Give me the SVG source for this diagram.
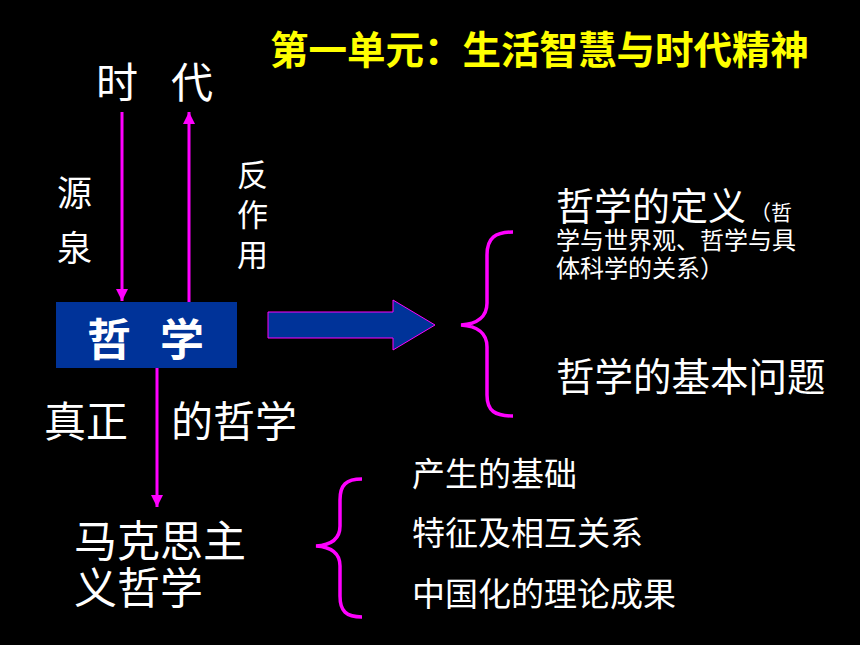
<svg xmlns="http://www.w3.org/2000/svg" width="860" height="645" viewBox="0 0 860 645">
<style>
text{font-family:"Noto Sans CJK SC","Noto Sans CJK JP",sans-serif;fill:#ffffff}
.title{fill:#ffff00;font-weight:bold;font-size:38.5px}
.conn{stroke:#ff00ff;stroke-width:3;fill:none}
.brace{stroke:#ff00ff;stroke-width:3.5;fill:none}
</style>
<defs>
<marker id="ah" viewBox="0 0 10 10" refX="10" refY="5" markerWidth="4" markerHeight="4" orient="auto" markerUnits="strokeWidth">
<path d="M0,0 L10,5 L0,10 z" fill="#ff00ff"/>
</marker>
</defs>
<rect width="860" height="645" fill="#000000"/>
<text class="title" x="270" y="64">第一单元：生活智慧与时代精神</text>
<g id="shidai">
<text x="96" y="98" font-size="42">时</text>
<text x="171" y="98" font-size="42">代</text>
</g>
<g id="yuanquan">
<text font-size="35"><tspan x="57" y="206">源</tspan><tspan x="57" y="261">泉</tspan></text>
</g>
<g id="fanzuoyong">
<text font-size="31"><tspan x="237" y="186">反</tspan><tspan x="237" y="226">作</tspan><tspan x="237" y="266">用</tspan></text>
</g>
<g id="zhexue">
<rect x="56" y="302" width="181" height="66" fill="#003399"/>
<text x="87" y="356" font-size="44" font-weight="bold">哲</text>
<text x="160" y="356" font-size="44" font-weight="bold">学</text>
</g>
<g id="zhenzheng">
<text x="44" y="437" font-size="42">真正</text>
<text x="171" y="437" font-size="42">的哲学</text>
</g>
<g id="makesi">
<text font-size="43"><tspan x="74" y="557">马克思主</tspan><tspan x="74" y="604">义哲学</tspan></text>
</g>
<g id="definition">
<text font-size="38"><tspan x="556" y="220">哲学的定义</tspan><tspan font-size="21" dx="4">（哲</tspan><tspan x="556" y="249" font-size="24">学与世界观、哲学与具</tspan><tspan x="556" y="277" font-size="24">体科学的关系）</tspan></text>
</g>
<g id="basic">
<text x="556" y="391" font-size="38.5">哲学的基本问题</text>
</g>
<g id="items">
<text x="412" y="486" font-size="33">产生的基础</text>
<text x="412" y="545" font-size="33">特征及相互关系</text>
<text x="412" y="606" font-size="33">中国化的理论成果</text>
</g>
<g id="connectors">
<line class="conn" x1="122" y1="112" x2="122" y2="301" marker-end="url(#ah)"/>
<line class="conn" x1="189" y1="302" x2="189" y2="112" marker-end="url(#ah)"/>
<line class="conn" x1="157" y1="368" x2="157" y2="507" marker-end="url(#ah)"/>
<path d="M268,312 H393 V300 L435,325 L393,350 V338 H268 Z" fill="#003399" stroke="#ff00ff" stroke-width="1"/>
<path class="brace" d="M513,232 C495,232 487,238 487,255 V303 C487,317 477,324 461,325 C477,326 487,333 487,347 V395 C487,411 495,416 513,416"/>
<path class="brace" d="M362,479 C346,479 340,485 340,500 V526 C340,538 332,545 316,546 C332,547 340,554 340,566 V596 C340,611 346,617 362,617"/>
</g>
</svg>
